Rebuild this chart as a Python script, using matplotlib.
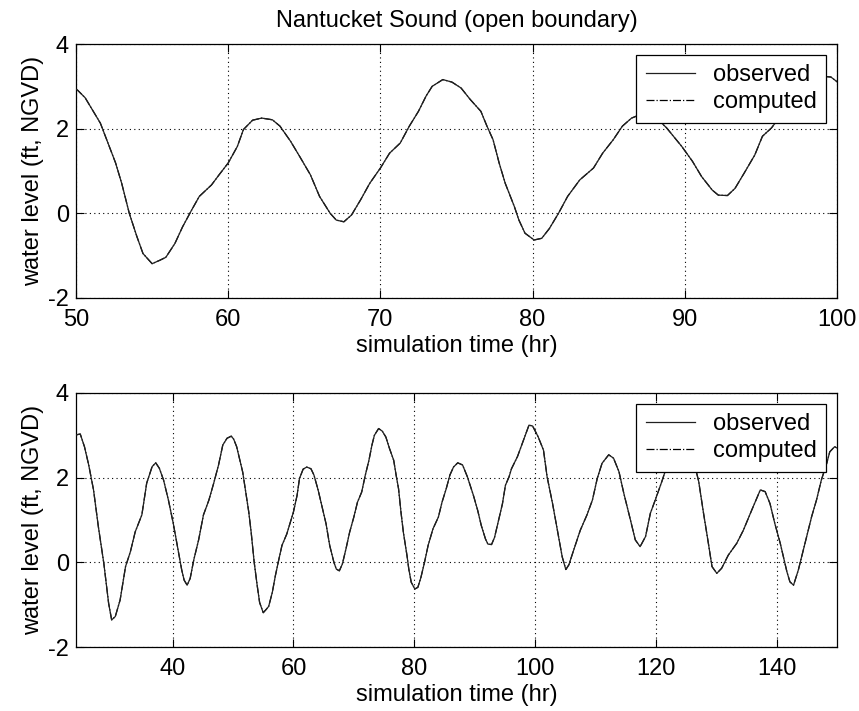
import matplotlib
matplotlib.use("Agg")
import matplotlib.pyplot as plt

plt.rcParams['font.family'] = ['Liberation Sans', 'DejaVu Sans']
plt.rcParams['axes.unicode_minus'] = False

# Water level record at the Nantucket Sound open boundary (ft, NGVD)
hours = [24.0, 24.7, 25.4, 26.1, 26.9, 27.7, 28.6, 29.4, 29.9, 30.5, 31.3, 32.2,
         33.0, 33.8, 34.9, 35.7, 36.6, 37.2, 37.8, 38.5, 39.3, 40.1, 40.8, 41.5,
         41.9, 42.4, 42.9, 43.5, 44.3, 45.1, 46.0, 46.8, 47.6, 48.3, 49.0, 49.7,
         50.1, 50.6, 51.0, 51.6, 52.1, 52.6, 53.0, 53.5, 54.0, 54.4, 55.0, 55.5,
         55.9, 56.5, 57.0, 57.6, 58.1, 58.9, 59.4, 60.0, 60.6, 61.0, 61.6, 62.2,
         62.9, 63.4, 64.1, 64.7, 65.4, 66.0, 66.7, 67.1, 67.6, 68.1, 68.7, 69.3,
         70.0, 70.6, 71.3, 71.9, 72.5, 73.0, 73.4, 74.1, 74.7, 75.3, 75.9, 76.6,
         77.0, 77.4, 77.8, 78.2, 78.8, 79.1, 79.5, 80.1, 80.6, 81.1, 81.7, 82.3,
         83.1, 84.0, 84.6, 85.3, 85.9, 86.5, 87.2, 88.0, 88.8, 89.8, 90.5, 91.1,
         91.8, 92.2, 92.8, 93.3, 93.9, 94.6, 95.1, 95.7, 96.1, 97.1, 98.2, 99.0,
         99.6, 100.5, 101.4, 102.0, 102.9, 103.7, 104.5, 105.1, 105.6, 106.4,
         107.5, 108.6, 109.5, 110.3, 111.1, 112.2, 113.0, 113.9, 114.7, 115.8,
         116.6, 117.4, 118.3, 119.1, 119.9, 121.0, 121.8, 122.8, 123.8, 124.8,
         125.7, 126.5, 127.1, 127.9, 128.7, 129.3, 130.1, 130.9, 132.0, 133.4,
         134.5, 135.9, 137.3, 138.1, 138.9, 139.7, 140.6, 141.7, 142.2, 142.8,
         143.6, 144.7, 145.8, 146.6, 147.4, 148.3, 148.8, 149.6, 150.0]

observed = [3.01, 3.03, 2.73, 2.30, 1.71, 0.84, -0.02, -0.97, -1.36, -1.28, -0.89, -0.10,
            0.25, 0.72, 1.12, 1.87, 2.26, 2.35, 2.22, 1.94, 1.47, 0.92, 0.37, -0.18,
            -0.42, -0.54, -0.38, 0.06, 0.53, 1.12, 1.47, 1.87, 2.30, 2.77, 2.93, 2.98,
            2.91, 2.73, 2.49, 2.13, 1.66, 1.19, 0.71, 0.00, -0.55, -0.95, -1.19, -1.11,
            -1.04, -0.71, -0.32, 0.08, 0.40, 0.67, 0.91, 1.19, 1.58, 1.98, 2.20, 2.25,
            2.21, 2.06, 1.70, 1.34, 0.91, 0.40, 0.00, -0.16, -0.20, -0.04, 0.32, 0.71,
            1.07, 1.42, 1.66, 2.06, 2.41, 2.77, 3.00, 3.16, 3.10, 2.96, 2.69, 2.41,
            2.06, 1.74, 1.19, 0.71, 0.16, -0.16, -0.47, -0.63, -0.59, -0.36, 0.00, 0.40,
            0.79, 1.07, 1.42, 1.74, 2.06, 2.25, 2.35, 2.30, 2.02, 1.58, 1.23, 0.87,
            0.55, 0.43, 0.42, 0.59, 0.95, 1.38, 1.82, 2.02, 2.21, 2.50, 2.93, 3.24,
            3.22, 2.97, 2.65, 2.02, 1.39, 0.76, 0.13, -0.17, -0.06, 0.29,
            0.76, 1.12, 1.47, 1.98, 2.34, 2.54, 2.46, 2.14, 1.63, 1.00,
            0.53, 0.37, 0.61, 1.16, 1.47, 1.91, 2.26, 2.50, 2.62, 2.58,
            2.45, 2.26, 1.91, 1.16, 0.45, -0.10, -0.26, -0.14, 0.17, 0.45,
            0.76, 1.24, 1.71, 1.67, 1.39, 0.92, 0.45, -0.22, -0.46, -0.54,
            -0.18, 0.45, 1.08, 1.47, 1.94, 2.34, 2.61, 2.73, 2.70]

# Model output follows the gauge record at the open boundary
computed = list(observed)

panel_xlims = [(50, 100), (24, 150)]
panel_xticks = [[50, 60, 70, 80, 90, 100], [40, 60, 80, 100, 120, 140]]
yticks = [-2, 0, 2, 4]
title = "Nantucket Sound (open boundary)"
xlabel = "simulation time (hr)"
ylabel = "water level (ft, NGVD)"

fig = plt.figure(figsize=(8.59, 7.11), dpi=100)
rects = [[0.0885, 0.5809, 0.8859, 0.3572], [0.0885, 0.0900, 0.8859, 0.3573]]
fs = 17

for i, rect in enumerate(rects):
    ax = fig.add_axes(rect)
    ax.plot(hours, computed, color='black', lw=0.9, ls='-.', label='computed', zorder=2)
    ax.plot(hours, observed, color='#202020', lw=0.9, ls='-', label='observed', zorder=3)
    ax.set_xlim(*panel_xlims[i])
    ax.set_ylim(-2, 4)
    ax.set_xticks(panel_xticks[i])
    ax.set_yticks(yticks)
    ax.grid(True, ls=(0, (1, 3)), color='black', lw=0.8)
    ax.tick_params(direction='in', top=True, right=True, length=6, width=0.8,
                   labelsize=fs)
    ax.tick_params(axis='x', pad=8)
    ax.tick_params(axis='y', pad=5)
    for sp in ax.spines.values():
        sp.set_linewidth(0.9)
    ax.set_xlabel(xlabel, fontsize=fs, labelpad=3)
    ax.set_ylabel(ylabel, fontsize=fs, labelpad=3)
    h, l = ax.get_legend_handles_labels()
    leg = ax.legend([h[1], h[0]], [l[1], l[0]], loc='upper right',
                    bbox_to_anchor=(0.986, 0.957), fontsize=fs, frameon=True,
                    fancybox=False, edgecolor='black', framealpha=1,
                    handlelength=2.1, handletextpad=0.75, borderpad=0.4,
                    labelspacing=0.2, borderaxespad=0)
    leg.get_frame().set_linewidth(0.9)
    if i == 0:
        ax.set_title(title, fontsize=fs, pad=12)

fig.savefig("out.png", dpi=100)
